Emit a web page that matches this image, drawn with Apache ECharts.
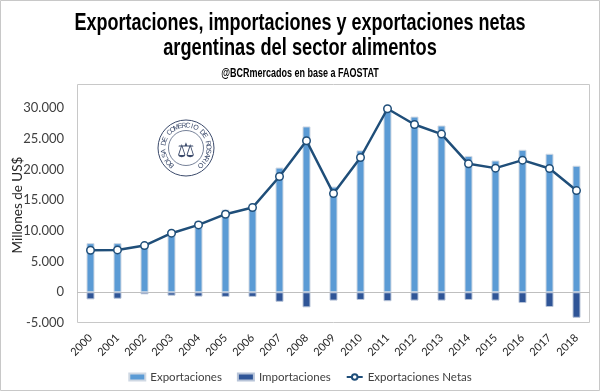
<!DOCTYPE html>
<html>
<head>
<meta charset="utf-8">
<script src="https://cdn.jsdelivr.net/npm/echarts@6/dist/echarts.min.js"></script>
<style>
html,body{margin:0;padding:0;background:#fff;}
#chart{width:600px;height:391px;}
</style>
</head>
<body>
<div id="chart"></div>
<script>
var years = ['2000','2001','2002','2003','2004','2005','2006','2007','2008','2009','2010','2011','2012','2013','2014','2015','2016','2017','2018'];
var exportaciones = [8000, 8000, 7900, 10050, 11600, 13450, 14450, 20300, 27000, 17200, 23100, 31200, 28600, 27150, 22200, 21450, 23200, 22550, 20600];
var importaciones = [-1150, -1050, -330, -550, -700, -750, -750, -1550, -2450, -1350, -1250, -1450, -1350, -1350, -1250, -1350, -1750, -2400, -4150];
var exportacionesNetas = [6850, 6900, 7600, 9620, 10970, 12710, 13790, 18840, 24660, 16070, 21940, 29880, 27320, 25750, 20910, 20210, 21510, 20150, 16560];
var yTicks = {min: -5000, max: 30000, interval: 5000};
var titleLine1 = 'Exportaciones, importaciones y exportaciones netas';
var titleLine2 = 'argentinas del sector alimentos';
var subtitle = '@BCRmercados en base a FAOSTAT';
var yName = 'Millones de US$';
var sealText = 'BOLSA DE COMERCIO DE ROSARIO';

var chart = echarts.init(document.getElementById('chart'));
var fmt = function (v) {
  var s = Math.abs(v).toString().replace(/\B(?=(\d{3})+(?!\d))/g, '.');
  return (v < 0 ? '-' : '') + s;
};
var titleFont = '"Liberation Sans", Arial, sans-serif';
var bodyFont = 'Lato, "Open Sans", sans-serif';
var graphics = [
  {type: 'rect', shape: {x: 0.5, y: 0.5, width: 599, height: 390}, style: {fill: 'none', stroke: '#c8c8c8', lineWidth: 1}, silent: true},
  {type: 'rect', shape: {x: 77.5, y: 84.5, width: 512, height: 238}, style: {fill: 'none', stroke: '#c8c8c8', lineWidth: 1}, silent: true, z: 0},
  {type: 'text', x: 300, y: 23, scaleX: 0.75, style: {text: titleLine1, fontFamily: titleFont, fontWeight: 'bold', fontSize: 24, fill: '#000', textAlign: 'center', textVerticalAlign: 'middle'}, silent: true},
  {type: 'text', x: 300, y: 48, scaleX: 0.76, style: {text: titleLine2, fontFamily: titleFont, fontWeight: 'bold', fontSize: 24, fill: '#000', textAlign: 'center', textVerticalAlign: 'middle'}, silent: true},
  {type: 'text', x: 300, y: 74, scaleX: 0.75, style: {text: subtitle, fontFamily: titleFont, fontWeight: 'bold', fontSize: 12, fill: '#000', textAlign: 'center', textVerticalAlign: 'middle'}, silent: true},
  {type: 'text', x: 18, y: 205, rotation: Math.PI / 2, style: {text: yName, fontFamily: bodyFont, fontSize: 13.5, fill: '#262626', textAlign: 'center', textVerticalAlign: 'middle'}, silent: true},
  {type: 'circle', shape: {cx: 186, cy: 148, r: 28}, style: {fill: '#fff', stroke: '#3b4a6b', lineWidth: 1}, silent: true},
  {type: 'circle', shape: {cx: 186, cy: 148, r: 17.5}, style: {fill: 'none', stroke: '#3b4a6b', lineWidth: 0.7}, silent: true},
  {type: 'text', x: 186, y: 151, style: {text: '⚖', fontSize: 20, fill: '#3b4a6b', textAlign: 'center', textVerticalAlign: 'middle'}, silent: true}
];
(function () {
  var n = sealText.length;
  var start = -140, end = 140;
  for (var i = 0; i < n; i++) {
    var th = (start + (end - start) * i / (n - 1)) * Math.PI / 180;
    graphics.push({
      type: 'text', x: 186 + 22.5 * Math.sin(th), y: 148 - 22.5 * Math.cos(th), rotation: -th,
      style: {text: sealText[i], fontSize: 7, fontFamily: titleFont, fill: '#3b4a6b', textAlign: 'center', textVerticalAlign: 'middle'},
      silent: true
    });
  }
})();

chart.setOption({
  backgroundColor: '#ffffff',
  animation: false,
  graphic: graphics,
  legend: {
    bottom: 3, left: 'center', itemGap: 15, itemWidth: 16, itemHeight: 7,
    textStyle: {fontFamily: bodyFont, fontSize: 11.5, color: '#404040'},
    data: [
      {name: 'Exportaciones', icon: 'rect'},
      {name: 'Importaciones', icon: 'rect'},
      {name: 'Exportaciones Netas'}
    ]
  },
  grid: {left: 77, right: 10, top: 108, bottom: 68, containLabel: false},
  xAxis: {
    type: 'category', data: years,
    axisLine: {onZero: false, show: false},
    axisTick: {show: false},
    axisLabel: {rotate: 45, fontSize: 11, color: '#262626', margin: 13, fontFamily: bodyFont, interval: 0}
  },
  yAxis: {
    type: 'value', min: yTicks.min, max: yTicks.max, interval: yTicks.interval,
    axisLine: {show: false}, axisTick: {show: false}, splitLine: {show: false},
    axisLabel: {formatter: fmt, fontSize: 13, color: '#404040', margin: 13, fontFamily: bodyFont}
  },
  series: [
    {
      name: 'Exportaciones', type: 'bar', stack: 'tot', data: exportaciones, barWidth: 8,
      itemStyle: {color: '#5B9BD5', borderColor: '#cfd8e3', borderWidth: 1},
      markLine: {silent: true, symbol: 'none', label: {show: false}, lineStyle: {color: '#bfbfbf', type: 'solid', width: 1}, data: [{yAxis: 0}], z: 1}
    },
    {
      name: 'Importaciones', type: 'bar', stack: 'tot', data: importaciones, barWidth: 8,
      itemStyle: {color: '#2F5597', borderColor: '#b8c4d8', borderWidth: 1}
    },
    {
      name: 'Exportaciones Netas', type: 'line', data: exportacionesNetas,
      symbol: 'circle', symbolSize: 7.5, z: 5,
      lineStyle: {color: '#1F4E79', width: 2.5},
      itemStyle: {color: '#ffffff', borderColor: '#1F4E79', borderWidth: 1.5}
    }
  ]
});
</script>
</body>
</html>
